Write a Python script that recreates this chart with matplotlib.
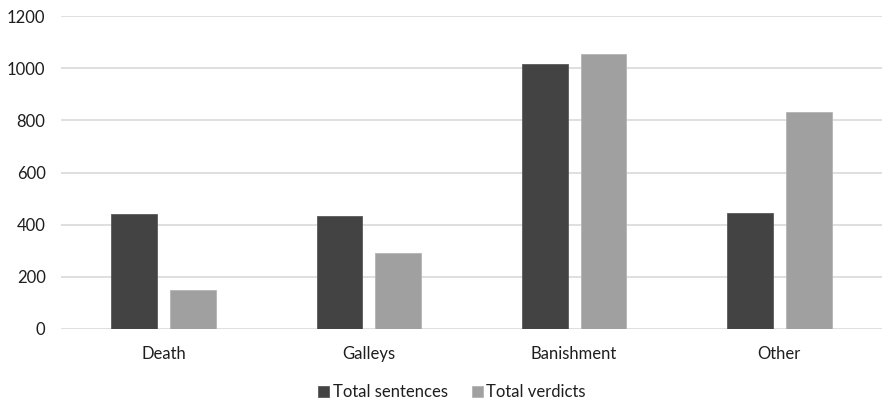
import matplotlib.pyplot as plt
import numpy as np

plt.rcParams["font.family"] = ["Lato", "DejaVu Sans"]

categories = ["Death", "Galleys", "Banishment", "Other"]
total_sentences = [441, 434, 1015, 443]
total_verdicts = [151, 293, 1053, 833]
y_ticks = [0, 200, 400, 600, 800, 1000, 1200]

fig = plt.figure(figsize=(8.82, 4.04), dpi=100)
ax = fig.add_axes([0.069, 0.186, 0.931, 0.774])

x = np.arange(len(categories))
width = 0.223
offset = 0.143
ax.bar(x - offset, total_sentences, width, color="#434343",
       edgecolor="#5a5a5a", linewidth=0.6, label="Total sentences", zorder=3)
ax.bar(x + offset, total_verdicts, width, color="#a0a0a0",
       edgecolor="#b4b4b4", linewidth=0.6, label="Total verdicts", zorder=3)

ax.set_xlim(-0.5, len(categories) - 0.5)
ax.set_ylim(0, 1200)
ax.set_yticks(y_ticks)
ax.set_xticks(x)
ax.set_xticklabels(categories)
ax.yaxis.grid(True, color="#d9d9d9", linewidth=1.2, zorder=0)
ax.tick_params(axis="both", length=0, labelsize=12, colors="#1e1e1e")
ax.tick_params(axis="x", pad=12)
ax.tick_params(axis="y", pad=11)
for side in ["top", "right", "left", "bottom"]:
    ax.spines[side].set_visible(False)

handles, labels = ax.get_legend_handles_labels()
fig.legend(handles, labels, loc="center", bbox_to_anchor=(0.5125, 0.0285),
           ncol=2, frameon=False, fontsize=12, handlelength=0.66,
           handleheight=0.66, handletextpad=0.2, columnspacing=1.45,
           borderpad=0, labelcolor="#1e1e1e")

fig.savefig("out.png", dpi=100)
